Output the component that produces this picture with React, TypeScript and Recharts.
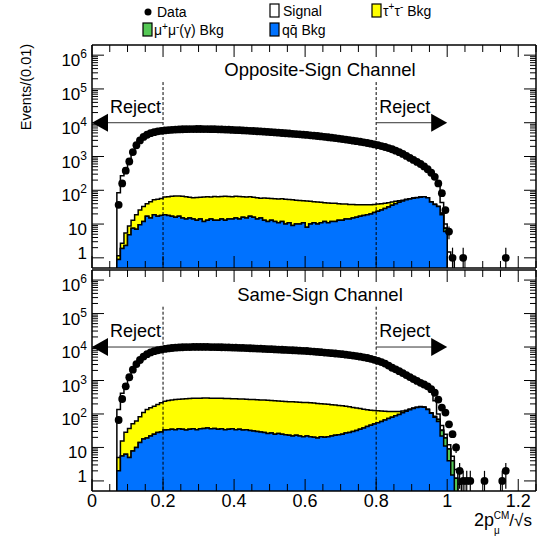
import {
  ComposedChart,
  Area,
  Scatter,
  XAxis,
  YAxis,
  ReferenceLine,
  ErrorBar,
} from "recharts";

// histogram binning: Events/(0.01), first filled bin starts at 0.07
const BIN_LO = 0.07;
const BIN_W = 0.01;
const FLOOR = 0.01; // stands in for empty bins on the log axis

// ---- Opposite-Sign channel (bins from 0.07) ----
const osData = [
  37, 160, 380, 710, 1350, 2150, 3000, 3800, 4400, 4900,
  5250, 5550, 5750, 5900, 6050, 6150, 6250, 6330, 6400, 6450,
  6480, 6500, 6520, 6520, 6500, 6480, 6450, 6420, 6380, 6330,
  6270, 6210, 6140, 6070, 6000, 5920, 5840, 5760, 5680, 5600,
  5510, 5420, 5330, 5240, 5150, 5060, 4970, 4880, 4790, 4700,
  4610, 4520, 4430, 4340, 4240, 4140, 4040, 3940, 3830, 3720,
  3610, 3500, 3390, 3280, 3170, 3060, 2950, 2840, 2730, 2620,
  2510, 2400, 2280, 2160, 2040, 1910, 1780, 1640, 1490, 1340,
  1190, 1040, 910, 790, 690, 600, 510, 420, 330, 250,
  160, 82, 26, 6, 1, 0, 0, 1, 0, 0,
  0, 0, 0, 0, 0, 0, 0, 0, 0, 1,
];
const osSignal = [
  83, 267, 445, 750, 1340, 2130, 2970, 3770, 4360, 4850,
  5200, 5500, 5690, 5840, 5990, 6080, 6180, 6260, 6330, 6390,
  6420, 6440, 6460, 6460, 6440, 6420, 6390, 6360, 6320, 6270,
  6200, 6150, 6080, 6000, 5940, 5860, 5780, 5700, 5620, 5540,
  5450, 5360, 5270, 5180, 5090, 5000, 4910, 4830, 4740, 4650,
  4560, 4470, 4380, 4290, 4190, 4090, 4000, 3900, 3790, 3680,
  3570, 3460, 3350, 3240, 3130, 3020, 2910, 2800, 2690, 2580,
  2470, 2360, 2240, 2120, 2000, 1870, 1740, 1600, 1440, 1290,
  1140, 990, 850, 730, 630, 540, 445, 360, 285, 210,
  127, 22, 2.5, 1.5, 1, 0.3,
];
const osTauTau = [
  0.25, 0.8, 3.1, 4, 5.5, 12, 16.5, 21, 23, 31,
  33, 37, 39, 44, 46, 49, 52, 51, 52, 50,
  47, 46, 48, 48, 51, 51, 49, 52, 51, 51,
  53, 51, 50, 51, 51, 48, 48, 47, 46, 46,
  43, 46, 46, 44, 44, 44, 44, 44, 42, 43,
  41, 40, 38, 40, 37, 35, 35, 33, 31, 31,
  29, 29, 27, 26, 25, 24, 23, 21, 20, 19,
  18, 17, 16, 15, 14, 12, 11, 9, 7, 5,
  3, 2, 1.5, 1, 1, 0.8, 0.8, 0.6, 0.5, 0.4,
  0.3, 0.2, 0.1,
];
const osQQ = [
  0.9, 1.9, 2.3, 4.8, 7.5, 7, 9.5, 12, 17, 15,
  19, 17, 18, 19, 18, 17, 16, 17, 15, 14,
  15, 14, 13, 14, 12, 13, 14, 13, 13, 14,
  13, 14, 14, 15, 14, 16, 15, 17, 16, 14,
  15, 13, 12, 13, 12, 11, 12, 10, 11, 9,
  10, 10, 11, 8, 10, 11, 10, 11, 12, 11,
  12, 12, 13, 13, 14, 14, 15, 16, 17, 18,
  19, 20, 22, 24, 26, 29, 32, 36, 40, 44,
  48, 52, 55, 58, 60, 62, 64, 60, 45, 38,
  33, 19, 6,
];
const osMuMuFrom = 0.98;
const osMuMu = [2, 1.5];

// ---- Same-Sign channel (bins from 0.07) ----
const ssData = [
  66, 280, 670, 1250, 2100, 3100, 4100, 5200, 6100, 6900,
  7500, 8000, 8400, 8800, 9100, 9350, 9550, 9700, 9850, 9950,
  10000, 10050, 10100, 10100, 10100, 10050, 10000, 9950, 9900, 9850,
  9780, 9700, 9620, 9540, 9450, 9370, 9280, 9190, 9100, 9000,
  8900, 8800, 8700, 8600, 8500, 8400, 8300, 8200, 8100, 8000,
  7900, 7800, 7700, 7600, 7450, 7300, 7150, 7000, 6850, 6700,
  6550, 6400, 6250, 6100, 5920, 5740, 5550, 5350, 5150, 4930,
  4700, 4450, 4150, 3850, 3550, 3200, 2800, 2400, 2150, 1900,
  1670, 1450, 1270, 1100, 970, 850, 760, 670, 550, 430,
  270, 155, 110, 49, 25, 10, 2, 1, 1, 1,
  0, 0, 0, 1, 0, 0, 0, 0, 1, 2,
];
const ssSignal = [
  132, 404, 772, 1313, 2050, 3040, 4020, 5090, 5960, 6750,
  7330, 7810, 8190, 8560, 8850, 9090, 9280, 9420, 9570, 9660,
  9710, 9760, 9800, 9800, 9800, 9750, 9700, 9650, 9600, 9560,
  9490, 9410, 9330, 9260, 9170, 9090, 9000, 8920, 8830, 8730,
  8640, 8540, 8440, 8350, 8250, 8150, 8060, 7960, 7870, 7770,
  7670, 7580, 7480, 7380, 7240, 7090, 6940, 6800, 6650, 6510,
  6360, 6220, 6070, 5930, 5750, 5580, 5390, 5200, 5000, 4790,
  4570, 4320, 4020, 3730, 3430, 3080, 2680, 2280, 2030, 1780,
  1550, 1320, 1130, 950, 810, 680, 600, 460, 340, 165,
  31, 12, 5.5, 3, 1.5, 1, 0.5,
];
const ssTauTau = [
  3, 10, 22, 32, 43, 52, 69, 92, 118, 132,
  145, 164, 186, 207, 218, 227, 236, 240, 247, 253,
  255, 257, 261, 261, 261, 260, 261, 259, 260, 257,
  257, 254, 251, 250, 246, 245, 241, 240, 238, 236,
  234, 232, 230, 225, 224, 219, 216, 213, 210, 208,
  204, 202, 200, 197, 194, 191, 188, 182, 179, 173,
  168, 162, 156, 150, 142, 135, 127, 119, 110, 101,
  92, 84, 77, 70, 62, 54, 46, 38, 30, 22,
  15, 10, 7, 5, 4, 4, 3, 3, 2, 2,
  1, 1, 0.5,
];
const ssQQ = [
  2, 5.6, 6.3, 5, 7.9, 10, 14, 18, 19, 22,
  25, 28, 29, 33, 34, 35, 34, 36, 35, 33,
  35, 36, 34, 36, 37, 38, 36, 37, 35, 36,
  34, 35, 36, 34, 35, 33, 34, 32, 31, 30,
  29, 28, 26, 27, 25, 26, 25, 24, 23, 22,
  23, 22, 21, 22, 21, 20, 19, 21, 20, 21,
  22, 23, 24, 25, 27, 28, 30, 32, 35, 38,
  42, 46, 50, 55, 60, 66, 73, 80, 88, 97,
  108, 120, 133, 145, 155, 162, 158, 135, 105, 80,
  60, 22, 11, 4, 1.5,
];
const ssMuMuFrom = 0.95;
const ssMuMu = [1, 3, 8, 10, 8, 5, 2.5, 1.2, 0.3];

// axes
const X_LABELS = [0, 0.2, 0.4, 0.6, 0.8, 1, 1.2];
const X_TICKS = [
  0, 0.05, 0.1, 0.15, 0.2, 0.25, 0.3, 0.35, 0.4, 0.45, 0.5, 0.55, 0.6,
  0.65, 0.7, 0.75, 0.8, 0.85, 0.9, 0.95, 1, 1.05, 1.1, 1.15, 1.2, 1.25,
];
const DECADES = [1, 10, 100, 1e3, 1e4, 1e5, 1e6];
const MANTISSA = [1, 2, 3, 4, 5, 6, 7, 8, 9];
const Y_TICKS = DECADES.flatMap((d) => MANTISSA.map((m) => m * d)).filter(
  (v) => v <= 1e6
);
const X_DOMAIN: [number, number] = [0, 1.25];
const Y_DOMAIN: [number, number] = [0.5, 2e6];

// selection cuts
const CUTS = [0.2, 0.8];
const REJECT_LEVEL = 1e4;
const DASH_TOP = 1.6e5;

const COLORS = {
  qq: "#0072ff",
  mm: "#55c855",
  tt: "#ffff00",
  signal: "#ffffff",
};

const edge = (i: number) => +(BIN_LO + i * BIN_W).toFixed(3);
const binIndex = (x: number) => Math.round((x - BIN_LO) / BIN_W);

function buildHist(
  sig: number[],
  tt: number[],
  qq: number[],
  mm: number[],
  mmFrom: number
) {
  const n = Math.max(sig.length, tt.length, qq.length);
  const mmStart = binIndex(mmFrom);
  const pos = (v: number) => (v > 0 ? v : FLOOR);
  const rows = [{ x: BIN_LO, qq: FLOOR, mm: FLOOR, tt: FLOOR, total: FLOOR }];
  for (let i = 0; i < n; i++) {
    const q = qq[i] ?? 0;
    const m = q + (mm[i - mmStart] ?? 0);
    const t = m + (tt[i] ?? 0);
    const s = t + (sig[i] ?? 0);
    rows.push({ x: edge(i), qq: pos(q), mm: pos(m), tt: pos(t), total: pos(s) });
  }
  rows.push({ x: edge(n), qq: FLOOR, mm: FLOOR, tt: FLOOR, total: FLOOR });
  return rows;
}

function buildPoints(counts: number[]) {
  return counts
    .map((c, i) => ({
      x: +(BIN_LO + (i + 0.5) * BIN_W).toFixed(3),
      n: c,
      err: [c - Math.max(c - Math.sqrt(c), 0.5), Math.sqrt(c)],
    }))
    .filter((p) => p.n > 0);
}

const fmtX = (v: number) => String(parseFloat(v.toFixed(2)));

const xTick = (side: "bottom" | "top", labels: boolean) => (p: any) => {
  const v = p.payload.value;
  const major = X_LABELS.some((l) => Math.abs(l - v) < 1e-6);
  const len = major ? 12 : 7;
  const dir = side === "bottom" ? -1 : 1;
  return (
    <g>
      <line x1={p.x} x2={p.x} y1={p.y} y2={p.y + dir * len} stroke="#000" strokeWidth={1} />
      {labels && major && (
        <text x={p.x} y={p.y + 16} textAnchor="middle" fontSize={18} fill="#000">
          {fmtX(v)}
        </text>
      )}
    </g>
  );
};

const yTick = (side: "left" | "right", labels: boolean) => (p: any) => {
  const v = p.payload.value;
  const lg = Math.log10(v);
  const k = Math.round(lg);
  const major = Math.abs(lg - k) < 1e-6;
  const len = major ? 12 : 6;
  const dir = side === "left" ? 1 : -1;
  return (
    <g>
      <line x1={p.x} x2={p.x + dir * len} y1={p.y} y2={p.y} stroke="#000" strokeWidth={1} />
      {labels && major && (
        <text
          x={p.x - 5}
          y={k === 0 ? p.y + 1 : p.y + 11}
          textAnchor="end"
          fontSize={17}
          fill="#000"
        >
          {k === 0 ? "1" : k === 1 ? "10" : (
            <>
              10
              <tspan dy={-8} fontSize={12}>
                {k}
              </tspan>
            </>
          )}
        </text>
      )}
    </g>
  );
};

const rejectArrow = (dir: "left" | "right") => (p: any) => {
  const { x1, y1, x2, y2 } = p;
  const s = dir === "left" ? 1 : -1;
  return (
    <g>
      <line x1={x1} y1={y1} x2={x2 + s * 14} y2={y2} stroke="#333" strokeWidth={1} />
      <polygon
        points={`${x2},${y2} ${x2 + s * 16},${y2 - 9} ${x2 + s * 16},${y2 + 9}`}
        fill="#000"
      />
      <text
        x={dir === "left" ? x1 - 2 : x1 + 3}
        y={y1 - 10}
        textAnchor={dir === "left" ? "end" : "start"}
        fontSize={18}
        fill="#000"
      >
        Reject
      </text>
    </g>
  );
};

const dot = (p: any) => <circle cx={p.cx} cy={p.cy} r={3.9} fill="#000" />;

function Panel(props: {
  rows: any[];
  points: any[];
  top: number;
  height: number;
  margin: { top: number; right: number; bottom: number; left: number };
  xLabels: boolean;
}) {
  const { rows, points, top, height, margin, xLabels } = props;
  const hist = { type: "stepAfter" as const, stroke: "#000", strokeWidth: 1.5, fillOpacity: 1, isAnimationActive: false, dot: false, activeDot: false, yAxisId: "l" };
  const frame = { stroke: "#000", strokeWidth: 1.5 };
  return (
    <div style={{ position: "absolute", left: 0, top }}>
      <ComposedChart width={544} height={height} data={rows} margin={margin}>
        <Area {...hist} dataKey="total" fill={COLORS.signal} />
        <Area {...hist} dataKey="tt" fill={COLORS.tt} />
        <Area {...hist} dataKey="mm" fill={COLORS.mm} />
        <Area {...hist} dataKey="qq" fill={COLORS.qq} />
        {CUTS.map((c) => (
          <ReferenceLine
            key={c}
            yAxisId="l"
            segment={[{ x: c, y: DASH_TOP }, { x: c, y: Y_DOMAIN[0] }]}
            stroke="#000"
            strokeWidth={1}
            strokeDasharray="3 2"
            ifOverflow="visible"
          />
        ))}
        <ReferenceLine
          yAxisId="l"
          segment={[{ x: CUTS[0], y: REJECT_LEVEL }, { x: 0, y: REJECT_LEVEL }]}
          shape={rejectArrow("left")}
          ifOverflow="visible"
        />
        <ReferenceLine
          yAxisId="l"
          segment={[{ x: CUTS[1], y: REJECT_LEVEL }, { x: 1, y: REJECT_LEVEL }]}
          shape={rejectArrow("right")}
          ifOverflow="visible"
        />
        <Scatter yAxisId="l" data={points} dataKey="n" shape={dot} isAnimationActive={false}>
          <ErrorBar dataKey="err" direction="y" width={0} stroke="#000" strokeWidth={1.2} />
        </Scatter>
        <XAxis
          dataKey="x"
          type="number"
          domain={X_DOMAIN}
          allowDataOverflow
          ticks={X_TICKS}
          interval={0}
          height={1}
          tickSize={0}
          tickMargin={0}
          tickLine={false}
          axisLine={frame}
          tick={xTick("bottom", xLabels)}
        />
        <XAxis
          xAxisId="top"
          orientation="top"
          dataKey="x"
          type="number"
          domain={X_DOMAIN}
          allowDataOverflow
          ticks={X_TICKS}
          interval={0}
          height={1}
          tickSize={0}
          tickMargin={0}
          tickLine={false}
          axisLine={frame}
          tick={xTick("top", false)}
        />
        <YAxis
          yAxisId="l"
          type="number"
          scale="log"
          domain={Y_DOMAIN}
          allowDataOverflow
          ticks={Y_TICKS}
          interval={0}
          width={60}
          tickSize={0}
          tickMargin={0}
          tickLine={false}
          axisLine={frame}
          tick={yTick("left", true)}
        />
        <YAxis
          yAxisId="r"
          orientation="right"
          type="number"
          scale="log"
          domain={Y_DOMAIN}
          allowDataOverflow
          ticks={Y_TICKS}
          interval={0}
          width={1}
          tickSize={0}
          tickMargin={0}
          tickLine={false}
          axisLine={frame}
          tick={yTick("right", false)}
        />
      </ComposedChart>
    </div>
  );
}

const osRows = buildHist(osSignal, osTauTau, osQQ, osMuMu, osMuMuFrom);
const ssRows = buildHist(ssSignal, ssTauTau, ssQQ, ssMuMu, ssMuMuFrom);
const osPoints = buildPoints(osData);
const ssPoints = buildPoints(ssData);

export default function App() {
  return (
    <div
      style={{
        position: "absolute",
        left: 0,
        top: 0,
        width: 544,
        height: 541,
        background: "#fff",
        fontFamily: "'Liberation Sans', Arial, sans-serif",
      }}
    >
      <Panel
        rows={osRows}
        points={osPoints}
        top={0}
        height={270}
        margin={{ top: 44, right: 7, bottom: 1, left: 32 }}
        xLabels={false}
      />
      <Panel
        rows={ssRows}
        points={ssPoints}
        top={268}
        height={273}
        margin={{ top: 1, right: 7, bottom: 49, left: 32 }}
        xLabels={true}
      />
      <svg
        width={544}
        height={541}
        style={{ position: "absolute", left: 0, top: 0, pointerEvents: "none" }}
      >
        {/* legend */}
        <circle cx={148} cy={12} r={3.5} fill="#000" />
        <text x={157} y={17} fontSize={14}>Data</text>
        <rect x={270} y={4} width={9} height={13} fill={COLORS.signal} stroke="#000" strokeWidth={1.2} />
        <text x={283} y={16} fontSize={14}>Signal</text>
        <rect x={372} y={4} width={9} height={13} fill={COLORS.tt} stroke="#000" strokeWidth={1.2} />
        <text x={383} y={16} fontSize={14}>
          τ<tspan dy={-6} fontSize={10}>+</tspan>
          <tspan dy={6}>τ</tspan>
          <tspan dy={-6} fontSize={10}>-</tspan>
          <tspan dy={6}> Bkg</tspan>
        </text>
        <rect x={143} y={23} width={9} height={13} fill={COLORS.mm} stroke="#000" strokeWidth={1.2} />
        <text x={154} y={35} fontSize={14}>
          μ<tspan dy={-5} fontSize={10}>+</tspan>
          <tspan dy={5}>μ</tspan>
          <tspan dy={-5} fontSize={10}>-</tspan>
          <tspan dy={5}>(γ) Bkg</tspan>
        </text>
        <rect x={270} y={23} width={9} height={13} fill={COLORS.qq} stroke="#000" strokeWidth={1.2} />
        <text x={282} y={35} fontSize={14}>q{"q\u0304"} Bkg</text>

        {/* panel titles */}
        <text x={320} y={76} fontSize={18.5} textAnchor="middle">Opposite-Sign Channel</text>
        <text x={320} y={301} fontSize={18.5} textAnchor="middle">Same-Sign Channel</text>

        {/* axis titles */}
        <text transform="translate(25,87) rotate(-90)" y={6} fontSize={14.5} textAnchor="middle">
          Events/(0.01)
        </text>
        <text x={474} y={526} fontSize={18}>
          2p
          <tspan dy={8} fontSize={10}>μ</tspan>
          <tspan dx={-6} dy={-15} fontSize={10}>CM</tspan>
          <tspan dy={7} fontSize={17}>/√s</tspan>
        </text>
      </svg>
    </div>
  );
}
